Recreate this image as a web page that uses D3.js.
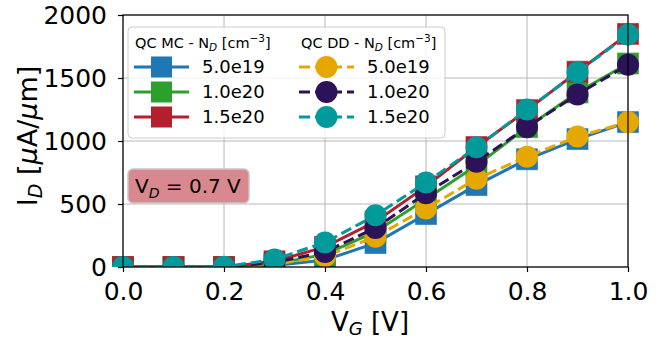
<!DOCTYPE html>
<html>
<head>
<meta charset="utf-8">
<script src="https://cdn.jsdelivr.net/npm/d3@7"></script>
<style>
  html, body { margin: 0; padding: 0; background: #fff; }
  svg { display: block; font-family: "DejaVu Sans", sans-serif; }
</style>
</head>
<body>
<svg id="chart" width="666" height="339"></svg>
<script>
// gate voltage sweep
const vg = [0.0, 0.1, 0.2, 0.3, 0.4, 0.5, 0.6, 0.7, 0.8, 0.9, 1.0];

// QC MC (squares, solid)
const mc50e19 = [0, 0, 0, 12, 55, 190, 420, 650, 855, 1015, 1150];
const mc10e20 = [0, 0, 0, 25, 100, 280, 540, 805, 1110, 1385, 1615];
const mc15e20 = [0, 0, 0, 45, 160, 360, 640, 952, 1245, 1550, 1850];

// QC DD (circles, dashed)
const dd50e19 = [0, 0, 0, 20, 85, 240, 465, 700, 875, 1035, 1150];
const dd10e20 = [0, 0, 0, 35, 120, 310, 585, 835, 1110, 1370, 1605];
const dd15e20 = [0, 0, 2, 60, 195, 410, 670, 950, 1250, 1545, 1845];

const dopingLabels = ["5.0e19", "1.0e20", "1.5e20"];
const xTicks = [0.0, 0.2, 0.4, 0.6, 0.8, 1.0];
const yTicks = [0, 500, 1000, 1500, 2000];

const series = [
  { kind: "mc", label: dopingLabels[0], values: mc50e19, color: "#1f77b4" },
  { kind: "mc", label: dopingLabels[1], values: mc10e20, color: "#2ca02c" },
  { kind: "mc", label: dopingLabels[2], values: mc15e20, color: "#b41f2e" },
  { kind: "dd", label: dopingLabels[0], values: dd50e19, color: "#e6a700" },
  { kind: "dd", label: dopingLabels[1], values: dd10e20, color: "#2e1259" },
  { kind: "dd", label: dopingLabels[2], values: dd15e20, color: "#009a9a" },
];

const svg = d3.select("#chart");
const plot = { left: 123, right: 628, top: 15, bottom: 267 };

const x = d3.scaleLinear().domain([0, 1]).range([plot.left, plot.right]);
const y = d3.scaleLinear().domain([0, 2000]).range([plot.bottom, plot.top]);

svg.append("defs").append("clipPath").attr("id", "plot-clip")
  .append("rect")
  .attr("x", plot.left - 14).attr("y", plot.top - 14)
  .attr("width", plot.right - plot.left + 28)
  .attr("height", plot.bottom - plot.top + 14);

// grid
const grid = svg.append("g").attr("class", "grid");
grid.selectAll("line.gx").data(xTicks).join("line")
  .attr("x1", d => x(d)).attr("x2", d => x(d))
  .attr("y1", plot.top).attr("y2", plot.bottom)
  .attr("stroke", "#b0b0b0").attr("stroke-width", 0.9);
grid.selectAll("line.gy").data(yTicks).join("line")
  .attr("x1", plot.left).attr("x2", plot.right)
  .attr("y1", d => y(d)).attr("y2", d => y(d))
  .attr("stroke", "#b0b0b0").attr("stroke-width", 0.9);

// series
const line = d3.line().x((d, i) => x(vg[i])).y(d => y(d));
const marks = svg.append("g").attr("clip-path", "url(#plot-clip)");

series.forEach(s => {
  const g = marks.append("g");
  g.append("path")
    .attr("d", line(s.values))
    .attr("fill", "none")
    .attr("stroke", s.color)
    .attr("stroke-width", 3)
    .attr("stroke-dasharray", s.kind === "dd" ? "11,5" : null);
  if (s.kind === "mc") {
    g.selectAll("rect").data(s.values).join("rect")
      .attr("x", (d, i) => x(vg[i]) - 10.5)
      .attr("y", d => y(d) - 10.5)
      .attr("width", 21).attr("height", 21)
      .attr("fill", s.color)
      .attr("stroke", s.color).attr("stroke-opacity", 0.6).attr("stroke-width", 1);
  } else {
    g.selectAll("circle").data(s.values).join("circle")
      .attr("cx", (d, i) => x(vg[i]))
      .attr("cy", d => y(d))
      .attr("r", 11)
      .attr("fill", s.color);
  }
});

// axes
const xAxis = svg.append("g")
  .attr("transform", `translate(0,${plot.bottom})`)
  .call(d3.axisBottom(x).tickValues(xTicks).tickFormat(d3.format(".1f")).tickSize(5).tickPadding(10));
xAxis.selectAll("text").style("font-size", "25px").attr("fill", "#000");

const yAxis = svg.append("g")
  .attr("transform", `translate(${plot.left},0)`)
  .call(d3.axisLeft(y).tickValues(yTicks).tickFormat(d3.format("d")).tickSize(5).tickPadding(11));
yAxis.selectAll("text").style("font-size", "25px").attr("fill", "#000");

[xAxis, yAxis].forEach(a => {
  a.select(".domain").remove();
  a.selectAll("line").attr("stroke", "#000").attr("stroke-width", 1.2);
  a.style("font-family", "DejaVu Sans, sans-serif");
});

// frame
svg.append("rect")
  .attr("x", plot.left).attr("y", plot.top)
  .attr("width", plot.right - plot.left).attr("height", plot.bottom - plot.top)
  .attr("fill", "none").attr("stroke", "#000").attr("stroke-width", 1.2);

// axis labels
const xl = svg.append("text")
  .attr("x", 370).attr("y", 331)
  .attr("text-anchor", "middle").style("font-size", "26px");
xl.append("tspan").text("V");
xl.append("tspan").attr("dy", 4).style("font-size", "18px").style("font-style", "italic").text("G");
xl.append("tspan").attr("dy", -4).text(" [V]");

const yl = svg.append("text")
  .attr("transform", `translate(37,136) rotate(-90)`)
  .attr("text-anchor", "middle").style("font-size", "27px");
yl.append("tspan").text("I");
yl.append("tspan").attr("dy", 5).style("font-size", "19px").style("font-style", "italic").text("D");
yl.append("tspan").attr("dy", -5).text(" [");
yl.append("tspan").style("font-style", "italic").text("μ");
yl.append("tspan").text("A/");
yl.append("tspan").style("font-style", "italic").text("μ");
yl.append("tspan").text("m]");

// legend
const legend = svg.append("g");
legend.append("rect")
  .attr("x", 128).attr("y", 27).attr("width", 317).attr("height", 111)
  .attr("rx", 4)
  .attr("fill", "#fff").attr("fill-opacity", 0.8)
  .attr("stroke", "#cccccc").attr("stroke-width", 1);

const cols = [
  { kind: "mc", title: "QC MC - N", x0: 134, x1: 189, tx: 202, titleX: 135 },
  { kind: "dd", title: "QC DD - N", x0: 299, x1: 354, tx: 367, titleX: 301 },
];
const rowY = [67, 92, 117];

cols.forEach(c => {
  const t = legend.append("text")
    .attr("x", c.titleX).attr("y", 48).style("font-size", "14.5px");
  t.append("tspan").text(c.title);
  t.append("tspan").attr("dy", 3).style("font-size", "10.5px").style("font-style", "italic").text("D");
  t.append("tspan").attr("dy", -3).text(" [cm");
  t.append("tspan").attr("dy", -6).style("font-size", "10.5px").text("−3");
  t.append("tspan").attr("dy", 6).text("]");

  series.filter(s => s.kind === c.kind).forEach((s, i) => {
    const cy = rowY[i];
    const cx = (c.x0 + c.x1) / 2;
    legend.append("line")
      .attr("x1", c.x0).attr("x2", c.x1).attr("y1", cy).attr("y2", cy)
      .attr("stroke", s.color).attr("stroke-width", 3)
      .attr("stroke-dasharray", c.kind === "dd" ? "11,5" : null);
    if (c.kind === "mc") {
      legend.append("rect")
        .attr("x", cx - 10.5).attr("y", cy - 10.5).attr("width", 21).attr("height", 21)
        .attr("fill", s.color);
    } else {
      legend.append("circle").attr("cx", cx).attr("cy", cy).attr("r", 11).attr("fill", s.color);
    }
    legend.append("text")
      .attr("x", c.tx).attr("y", cy).attr("dy", "0.36em")
      .style("font-size", "18px").text(s.label);
  });
});

// V_D annotation
const ann = svg.append("g");
ann.append("rect")
  .attr("x", 128).attr("y", 169).attr("width", 121).attr("height", 34)
  .attr("rx", 5)
  .attr("fill", "#d98890").attr("stroke", "#c8c8c8").attr("stroke-width", 1.5);
const at = ann.append("text")
  .attr("x", 135).attr("y", 193).style("font-size", "20px");
at.append("tspan").text("V");
at.append("tspan").attr("dy", 5).style("font-size", "14px").style("font-style", "italic").text("D");
at.append("tspan").attr("dy", -5).text(" = 0.7 V");
</script>
</body>
</html>
